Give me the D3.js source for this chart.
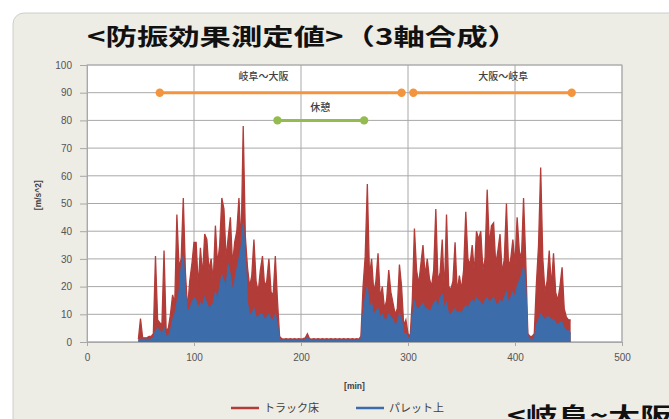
<!DOCTYPE html>
<html><head><meta charset="utf-8">
<script src="https://cdn.jsdelivr.net/npm/d3@7/dist/d3.min.js"></script>
<style>
html,body{margin:0;padding:0;background:#fff;}
svg{display:block;}
</style></head>
<body>
<svg id="c" width="669" height="419"></svg>
<script>
// ---- data ----
const startMin = 48, stepMin = 2;
const truckFloor = [
1,8.5,1.5,1.5,1.5,2,2,3,31,8,7,6,33,4,5,10,17,14,46,27,30,52,25,12,22,28,36,36,20,34,24,39,37,26,30,22,
42,28,35,52,48,30,38,45,28,36,40,52,35,78,38,27,20,24,37,22,18,26,31,20,22,30,18,17,31,15,2,
1.2,1,1.2,1,1.2,1,1.2,1,1.2,1,1.2,1.5,3,1.2,1,1.2,1,1.2,1,1.2,1,1.2,1,1.2,1,1.2,1,1.2,1,1.2,1,1.2,1,1.2,1,1.2,1,2,
20,31,57,24,30,18,22,32,16,20,12,15,26,18,14,10,12,28,20,6,8,3,2,15,41,26,21,28,35,24,30,23,20,26,48,22,25,37,18,46,
20,19,22,36,18,24,19,26,47,30,28,35,25,40,37,40,26,30,55,35,42,43,28,33,39,25,30,50,27,30,37,28,45,33,30,52,30,
3,2,2,3,21,35,63,30,18,22,33,20,32,18,15,20,27,12,9,8,8
];
const palletTop = [
0.5,1,1,1,1,1,1,1.5,4,5,4,3,5,2,2,4,8,10,14,18,27,31,18,11,12,14,16,15,12,14,13,16,14,12,13,14,
18,15,20,24,22,20,28,24,18,22,26,30,34,43,30,14,10,10,12,9,9,10,10,8,9,10,8,8,10,6,1,
0.6,0.5,0.6,0.5,0.6,0.5,0.6,0.5,0.6,0.5,0.6,0.8,1.5,0.6,0.5,0.6,0.5,0.6,0.5,0.6,0.5,0.6,0.5,0.6,0.5,0.6,0.5,0.6,0.5,0.6,0.5,0.6,0.5,0.6,0.5,0.6,0.5,1,
10,16,20,12,14,10,11,12,9,10,8,8,10,9,8,6,7,10,8,3,3,1.5,1,8,15,12,12,13,14,12,12,11,12,14,15,12,16,17,12,14,
10,10,11,12,10,11,10,12,13,12,14,15,14,16,15,14,13,15,16,14,15,16,14,13,15,14,16,18,14,16,18,16,20,22,24,27,20,
2,1,1,1,6,8,10,9,8,9,9,8,8,7,6,7,7,5,4,4,3
];
const periodRoutes = [
  {label:"岐阜～大阪", from:68, to:294, value:90},
  {label:"大阪～岐阜", from:305, to:453, value:90}
];
const periodRest = [{label:"休憩", from:178, to:259, value:80}];
const yTicks = [0,10,20,30,40,50,60,70,80,90,100];
const xTicks = [0,100,200,300,400,500];
const seriesNames = ["トラック床","パレット上"];
const titleText = "<防振効果測定値>（3軸合成）";
const subTitleText = "<岐阜~大阪";

// ---- layout ----
const svg = d3.select("#c");
const L = 87, R = 622, T = 65, B = 342;
const x = d3.scaleLinear().domain([0,500]).range([L,R]);
const y = d3.scaleLinear().domain([0,100]).range([B,T]);
const red = "#b23c38", blue = "#3d6cab";

svg.append("rect").attr("x",13).attr("y",13).attr("width",720).attr("height",460)
  .attr("rx",11).attr("fill","#edece5").attr("stroke","#cfcec6");

svg.append("text").attr("x",87).attr("y",45).text(titleText)
  .attr("font-family","'Noto Sans CJK JP'").attr("font-weight",700).attr("font-size",23)
  .attr("textLength",432).attr("lengthAdjust","spacingAndGlyphs").attr("fill","#111");

svg.append("rect").attr("x",L).attr("y",T).attr("width",R-L).attr("height",B-T)
  .attr("fill","#fff").attr("stroke","#b5b5b5");

// grid
svg.append("g").selectAll("line").data(yTicks).join("line")
  .attr("x1",L).attr("x2",R).attr("y1",d=>y(d)).attr("y2",d=>y(d))
  .attr("stroke","#a8a8a8").attr("stroke-width",1);
svg.append("g").selectAll("line").data(xTicks.filter(d=>d>0)).join("line")
  .attr("x1",d=>x(d)).attr("x2",d=>x(d)).attr("y1",T).attr("y2",B)
  .attr("stroke","#a8a8a8").attr("stroke-width",1);

// axes
const yAx = svg.append("g").attr("transform",`translate(${L},0)`)
  .call(d3.axisLeft(y).tickValues(yTicks).tickSize(7).tickPadding(8));
const xAx = svg.append("g").attr("transform",`translate(0,${B})`)
  .call(d3.axisBottom(x).tickValues(xTicks).tickSize(4).tickPadding(8));
[yAx,xAx].forEach(g=>{
  g.select(".domain").attr("stroke","#a8a8a8");
  g.selectAll(".tick line").attr("stroke","#a8a8a8");
  g.selectAll("text").attr("font-family","'Liberation Sans',Arial,sans-serif")
    .attr("font-size",10).attr("fill","#555");
});

// series
const pts = arr => arr.map((v,i)=>({t:startMin+i*stepMin, v}));
const area = d3.area().x(d=>x(d.t)).y0(y(0)).y1(d=>y(d.v));
const line = d3.line().x(d=>x(d.t)).y(d=>y(d.v));
const redPts = pts(truckFloor), bluePts = pts(palletTop);
svg.append("path").datum(redPts).attr("d",area).attr("fill",red);
svg.append("path").datum(redPts).attr("d",line).attr("fill","none").attr("stroke",red).attr("stroke-width",1.3);
svg.append("path").datum(bluePts).attr("d",area).attr("fill",blue);
svg.append("path").datum(bluePts).attr("d",line).attr("fill","none").attr("stroke",blue).attr("stroke-width",1.2);

// period bars
function periods(data, color){
  const g = svg.append("g");
  g.selectAll("line").data(data).join("line")
    .attr("x1",d=>x(d.from)).attr("x2",d=>x(d.to)).attr("y1",d=>y(d.value)).attr("y2",d=>y(d.value))
    .attr("stroke",color).attr("stroke-width",3);
  data.forEach(d=>{
    g.selectAll(null).data([d.from,d.to]).join("circle")
      .attr("cx",v=>x(v)).attr("cy",y(d.value)).attr("r",4.2).attr("fill",color);
  });
}
periods(periodRoutes,"#f3953f");
periods(periodRest,"#93bb4f");

const lblFont = "'Noto Sans CJK JP'";
svg.append("text").attr("x",x(165)).attr("y",y(94.5)).attr("text-anchor","middle")
  .text(periodRoutes[0].label).attr("font-family",lblFont).attr("font-size",10).attr("font-weight",500).attr("fill","#404040");
svg.append("text").attr("x",x(389)).attr("y",y(94.5)).attr("text-anchor","middle")
  .text(periodRoutes[1].label).attr("font-family",lblFont).attr("font-size",10).attr("font-weight",500).attr("fill","#404040");
svg.append("text").attr("x",x(218)).attr("y",y(83.5)).attr("text-anchor","middle")
  .text(periodRest[0].label).attr("font-family",lblFont).attr("font-size",10).attr("font-weight",500).attr("fill","#404040");

// axis titles
svg.append("text").attr("transform",`translate(41,${y(53)}) rotate(-90)`).attr("text-anchor","middle")
  .text("[m/s^2]").attr("font-family","'Liberation Sans',Arial,sans-serif").attr("font-size",8.5)
  .attr("font-weight",700).attr("fill","#404040");
svg.append("text").attr("x",x(250)).attr("y",389).attr("text-anchor","middle")
  .text("[min]").attr("font-family","'Liberation Sans',Arial,sans-serif").attr("font-size",8.5)
  .attr("font-weight",700).attr("fill","#404040");

// legend
const leg = [{name:seriesNames[0],color:red,x:231},{name:seriesNames[1],color:blue,x:356}];
const lg = svg.append("g");
leg.forEach(d=>{
  lg.append("line").attr("x1",d.x).attr("x2",d.x+28).attr("y1",408).attr("y2",408)
    .attr("stroke",d.color).attr("stroke-width",2.5);
  lg.append("text").attr("x",d.x+33).attr("y",412).text(d.name)
    .attr("font-family",lblFont).attr("font-size",11).attr("fill","#404040");
});

svg.append("text").attr("x",507).attr("y",424).text(subTitleText)
  .attr("font-family","'Noto Sans CJK JP'").attr("font-weight",700).attr("font-size",23)
  .attr("textLength",165).attr("lengthAdjust","spacingAndGlyphs").attr("fill","#111");
</script>
</body></html>
